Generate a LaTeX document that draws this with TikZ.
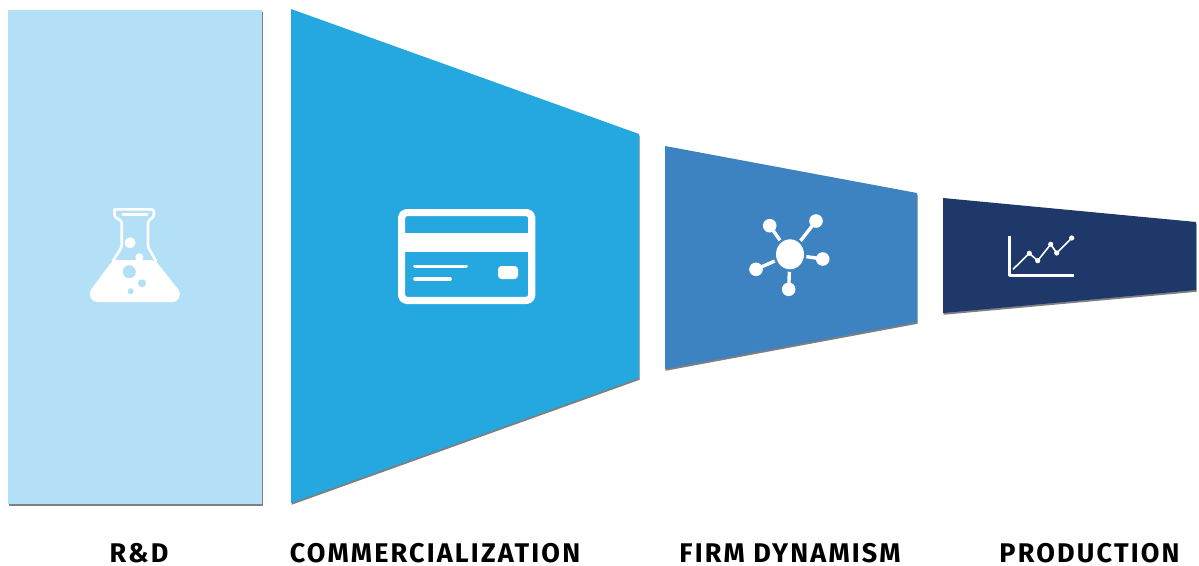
\documentclass[tikz,border=0pt]{standalone}
\usepackage{fontspec}
\setmainfont{Fira Sans}[LetterSpace=8]
\usetikzlibrary{shadows}
\definecolor{mpale}{HTML}{B3E0F7}
\definecolor{mcyan}{HTML}{25A7DF}
\definecolor{msteel}{HTML}{3D82C1}
\definecolor{mnavy}{HTML}{1E3869}
\tikzset{
  panel/.style={fill=#1, drop shadow={shadow xshift=0.5pt, shadow yshift=-1.8pt, fill=black, opacity=0.5}},
  caption/.style={anchor=base, inner sep=0pt, font=\bfseries\fontsize{27}{27}\selectfont},
  icon/.style={white, line cap=round, line join=round}
}
\begin{document}
\begin{tikzpicture}[x=1pt, y=-1pt]
  \useasboundingbox (0,0) rectangle (1199,565);

  % panels
  \path [panel=mpale] (8,10) -- (262,10) -- (262,504) -- (8,504) -- cycle;
  \path [panel=mcyan] (291,9) -- (639,134) -- (639,378) -- (291,503) -- cycle;
  \path [panel=msteel] (665,146) -- (917,193) -- (917,322) -- (665,369) -- cycle;
  \path [panel=mnavy] (943,198) -- (1196,222) -- (1196,290) -- (943,313) -- cycle;

  % flask
  \draw [icon, line width=2.6pt, rounded corners=2.5pt] (114.5,209.3) -- (153.8,209.3) -- (153.8,217) -- (148,221) -- (148,247) -- (156,261)
    (114.5,209.3) -- (114.5,217) -- (121.7,221) -- (121.7,247) -- (113,261);
  \draw [icon, line width=3pt] (123,214.8) -- (147,214.8);
  \fill [white, rounded corners=4pt] (113,260) -- (155,260) -- (181,293) -- (177,302) -- (93,302) -- (88.5,293) -- cycle;
  \fill [white] (130,242.7) circle (5.5) (139.3,257.3) circle (4);
  \foreach \bx/\by/\br in {129.3/271.7/6.5, 142/283.3/4, 130.7/291.3/3}
    \fill [mpale] (\bx,\by) circle (\br);

  % card
  \draw [icon, line width=7.2pt, rounded corners=5pt] (401.6,212.6) rectangle (531.8,300.4);
  \fill [white] (401.6,233) rectangle (531.8,252);
  \draw [icon, line width=3.6pt] (415,266.3) -- (466,266.3) (415,279) -- (450,279);
  \fill [white, rounded corners=3.5pt] (498,266) rectangle (518,279);

  % network
  \foreach \nx/\ny in {769.7/225.7, 816/221, 822.7/259, 756/269.3, 788.7/289.3} {
    \draw [white, line width=3.4pt] (790,254.3) -- (\nx,\ny);
    \fill [white] (\nx,\ny) circle (6.8);
  }
  \fill [msteel] (790,254.3) ellipse (16.5 and 17.5);
  \fill [white] (790,254.3) ellipse (14 and 15);

  % chart
  \draw [icon, line width=2.8pt, line cap=butt] (1009.3,235.5) -- (1009.3,275.7) -- (1074,275.7);
  \draw [icon, line width=1.6pt] (1013.3,269) -- (1029.3,253.3) -- (1037.7,260.7) -- (1050.7,244.3) -- (1056.7,253) -- (1071.7,238);
  \foreach \px/\py in {1029.3/253.3, 1037.7/260.7, 1050.7/244.3, 1056.7/253, 1071.7/238}
    \fill [white] (\px,\py) circle (2.6);

  % labels
  \node [caption] (rd) at (139,562.5) {R\&D};
  \node [caption] (comm) at (435,562.5) {COMMERCIALIZATION};
  \node [caption] (firm) at (790,562.5) {FIRM DYNAMISM};
  \node [caption] (prod) at (1089.5,562.5) {PRODUCTION};
\end{tikzpicture}
\end{document}
